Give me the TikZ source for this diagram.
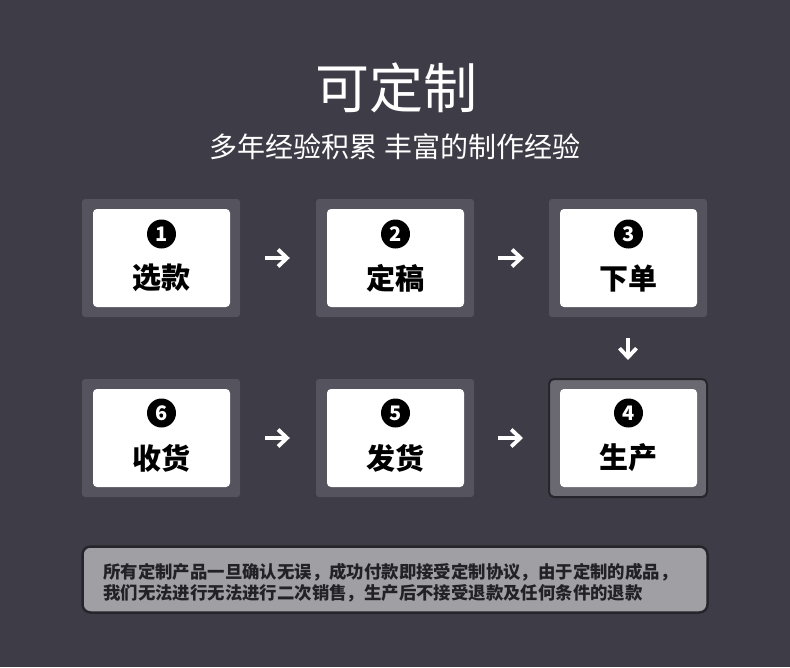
\documentclass[tikz,border=0pt]{standalone}
\usepackage{fontspec}
\setmainfont{Noto Sans CJK SC}
\usetikzlibrary{arrows.meta}
\definecolor{bgc}{RGB}{62,60,70}
\definecolor{outc}{RGB}{85,83,93}
\definecolor{outhi}{RGB}{106,104,112}
\definecolor{edgec}{RGB}{38,37,43}
\definecolor{notec}{RGB}{160,159,164}
\definecolor{notetext}{RGB}{34,34,38}
\begin{document}
\begin{tikzpicture}[x=1pt,y=-1pt,
  outerbox/.style={fill=outc, rounded corners=3pt, minimum width=158pt, minimum height=118pt, inner sep=0pt},
  innerbox/.style={fill=white, rounded corners=4pt, minimum width=137pt, minimum height=98pt, inner sep=0pt},
  numdot/.style={circle, fill=black, minimum size=29pt, inner sep=0pt, text=white, font=\bfseries\fontsize{20}{20}\selectfont},
  steplabel/.style={inner sep=0pt, text=black, font=\bfseries\fontsize{29}{29}\selectfont},
  arr/.style={draw=white, line width=3.8pt, -{Straight Barb[length=9pt, width=17pt]}}
]
\fill[bgc] (0,0) rectangle (790,667);
\useasboundingbox (0,0) rectangle (790,667);

\node[text=white, inner sep=0pt, font=\fontsize{54}{54}\selectfont] (title) at (396,88) {可定制};
\node[text=white, inner sep=0pt, font=\fontsize{28}{28}\selectfont] (sub) at (395,147) {多年经验积累 丰富的制作经验};

% row 1
\node[outerbox] (o1) at (161,258) {};
\node[outerbox] (o2) at (395,258) {};
\node[outerbox] (o3) at (628,258) {};
% row 2
\node[outerbox] (o6) at (161,438) {};
\node[outerbox] (o5) at (395,438) {};
\node[outerbox, fill=outhi, draw=edgec, line width=2pt, rounded corners=5pt] (o4) at (628,438) {};

\node[innerbox] (i1) at (161.5,258) {};
\node[innerbox] (i2) at (395.5,258) {};
\node[innerbox] (i3) at (628.5,258) {};
\node[innerbox] (i6) at (161.5,438) {};
\node[innerbox] (i5) at (395.5,438) {};
\node[innerbox] (i4) at (628.5,438) {};

\node[numdot] (n1) at (161.5,234) {1};
\node[numdot] (n2) at (395.5,234) {2};
\node[numdot] (n3) at (628.5,234) {3};
\node[numdot] (n6) at (161.5,413) {6};
\node[numdot] (n5) at (395.5,413) {5};
\node[numdot] (n4) at (628.5,413) {4};

\node[steplabel] (l1) at (161.5,278) {选款};
\node[steplabel] (l2) at (395.5,278) {定稿};
\node[steplabel] (l3) at (628.5,278) {下单};
\node[steplabel] (l6) at (161.5,458) {收货};
\node[steplabel] (l5) at (395.5,458) {发货};
\node[steplabel] (l4) at (628.5,458) {生产};

\draw[arr, shorten <=25pt, shorten >=26pt] (o1.east) -- (o2.west);
\draw[arr, shorten <=24pt, shorten >=25pt] (o2.east) -- (o3.west);
\draw[arr, shorten <=21pt, shorten >=18pt] (o3.south) -- (o4.north);
\draw[arr, shorten <=25pt, shorten >=26pt] (o6.east) -- (o5.west);
\draw[arr, shorten <=24pt, shorten >=25pt] (o5.east) -- (o4.west);

\node[fill=notec, draw=edgec, line width=2.5pt, rounded corners=8pt, minimum width=625pt, minimum height=66pt, inner sep=0pt] (note) at (395,579.5) {};
\node[anchor=west, align=left, inner sep=0pt, text=notetext, font=\bfseries\fontsize{17.4}{21}\selectfont] (notetxt) at (103,582.5) {所有定制产品一旦确认无误，成功付款即接受定制协议，由于定制的成品，\\我们无法进行无法进行二次销售，生产后不接受退款及任何条件的退款};
\end{tikzpicture}
\end{document}
